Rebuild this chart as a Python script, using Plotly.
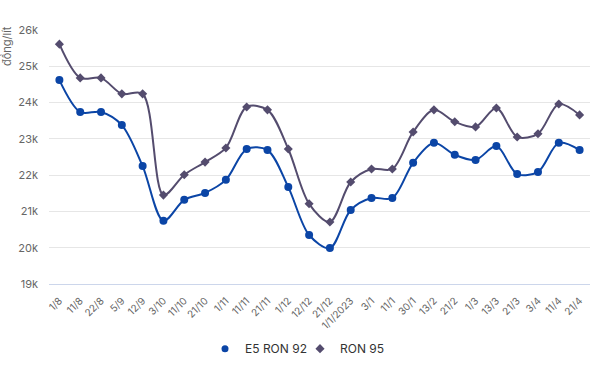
import plotly.graph_objects as go

categories = ["1/8", "11/8", "22/8", "5/9", "12/9", "3/10", "11/10", "21/10", "1/11", "11/11",
              "21/11", "1/12", "12/12", "21/12", "1/1/2023", "3/1", "11/1", "30/1", "13/2", "21/2",
              "1/3", "13/3", "21/3", "3/4", "11/4", "21/4"]
e5_ron92 = [24620, 23740, 23740, 23380, 22250, 20740, 21320, 21510, 21870, 22720,
            22690, 21670, 20350, 19990, 21040, 21370, 21370, 22340, 22890, 22560,
            22420, 22800, 22030, 22090, 22890, 22690]
ron95 = [25610, 24680, 24680, 24240, 24240, 21450, 22010, 22360, 22750, 23880,
         23800, 22720, 21210, 20710, 21810, 22170, 22170, 23190, 23800, 23470,
         23330, 23850, 23050, 23140, 23960, 23660]
y_ticks = [19000, 20000, 21000, 22000, 23000, 24000, 25000, 26000]
y_tick_labels = ["19k", "20k", "21k", "22k", "23k", "24k", "25k", "26k"]

FONT = "Inter, Noto Sans, sans-serif"
C_E5 = "#0b45a6"
C_95 = "#544c6e"

fig = go.Figure()
fig.add_trace(go.Scatter(
    x=categories, y=e5_ron92, name="E5 RON 92", mode="lines+markers", showlegend=False,
    line=dict(color=C_E5, width=2, shape="spline", smoothing=0.9),
    marker=dict(symbol="circle", size=8, color=C_E5),
))
fig.add_trace(go.Scatter(
    x=categories, y=ron95, name="RON 95", mode="lines+markers", showlegend=False,
    line=dict(color=C_95, width=2, shape="spline", smoothing=0.9),
    marker=dict(symbol="diamond", size=7, color=C_95),
))
# legend entries (marker only, as in the reference)
fig.add_trace(go.Scatter(x=[None], y=[None], name="E5 RON 92", mode="markers",
                         marker=dict(symbol="circle", size=7, color=C_E5)))
fig.add_trace(go.Scatter(x=[None], y=[None], name="RON 95", mode="markers",
                         marker=dict(symbol="diamond", size=7, color=C_95)))

fig.update_layout(
    width=600, height=367,
    margin=dict(l=49, r=10, t=30, b=83),
    paper_bgcolor="white", plot_bgcolor="white",
    font=dict(family=FONT, size=11, color="#666666"),
    showlegend=True,
    legend=dict(orientation="h", xref="container", x=0.5, xanchor="center",
                yref="container", y=0.05, yanchor="middle",
                font=dict(size=12, color="#333333"), itemwidth=30, tracegroupgap=0,
                itemsizing="trace", entrywidth=50, entrywidthmode="pixels"),
    xaxis=dict(
        type="category", tickangle=-45, showgrid=False, automargin=False,
        showline=True, linecolor="#ccd6eb", linewidth=1,
        ticks="", tickfont=dict(size=10, color="#666666"), ticklabelstandoff=6,
        range=[-0.5, len(categories) - 0.5],
    ),
    yaxis=dict(
        range=[19000, 26000], tickvals=y_ticks, ticktext=y_tick_labels, automargin=False,
        showgrid=True, gridcolor="#e6e6e6", gridwidth=1, zeroline=False,
        tickfont=dict(size=11, color="#666666"), ticks="", ticklabelstandoff=10,
    ),
    annotations=[dict(
        text="đồng/lít", textangle=-90, xref="paper", yref="paper",
        x=0, y=1.0, xshift=-51, yshift=6, xanchor="left", yanchor="top",
        showarrow=False, font=dict(size=11, color="#666666"),
    )],
)

fig.write_html("out.html", config={"displayModeBar": False},
               post_script="document.body.style.margin='0';")
